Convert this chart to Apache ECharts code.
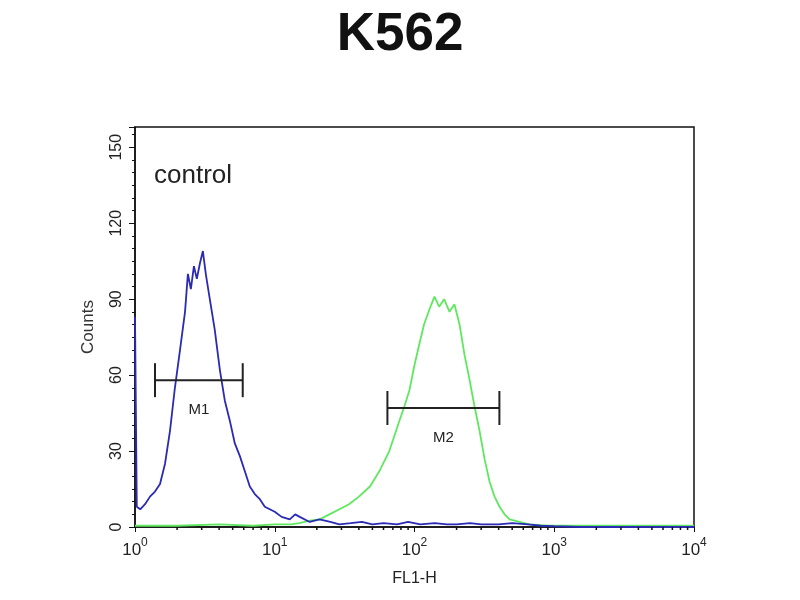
<!DOCTYPE html>
<html>
<head>
<meta charset="utf-8">
<script src="https://cdn.jsdelivr.net/npm/echarts@6/dist/echarts.min.js"></script>
<style>html,body{margin:0;padding:0;background:#fff;}#c{width:800px;height:600px;}</style>
</head>
<body>
<div id="c"></div>
<script>
const titleText = 'K562';
const xAxisName = 'FL1-H';
const yAxisName = 'Counts';
const panelLabel = 'control';

const blueX = [1, 1.03, 1.09, 1.18, 1.28, 1.39, 1.51, 1.64, 1.78, 1.93, 2.10, 2.28, 2.39, 2.51, 2.64, 2.77, 2.91, 3.06, 3.21, 3.43, 3.72, 4.05, 4.39, 4.77, 5.18, 5.63, 6.11, 6.63, 7.20, 7.82, 8.49, 9.22, 10, 11.2, 12.8, 14, 15.1, 17.8, 20.9, 25, 29, 35, 42, 50, 60, 75, 90, 110, 140, 170, 200, 250, 300, 400, 500, 650, 800, 1000, 1500, 3000, 10000];
const blueY = [83, 8, 7, 9, 12, 14, 17, 25, 38, 55, 70, 85, 100, 94, 103, 98, 104, 109, 100, 90, 78, 62, 50, 42, 33, 28, 22, 16, 13, 11, 8, 7, 6, 4, 3, 5, 4, 2, 3, 2, 1, 1.5, 2, 1, 1.5, 1, 2, 1, 1.5, 1, 1, 1.5, 1, 1, 1.5, 1, 0.5, 0.3, 0, 0, 0];

const greenX = [1, 2, 4, 7, 10, 13, 15, 17.8, 21, 24.6, 29, 34, 40, 48, 56, 66, 78, 85, 92, 100, 108, 117, 128, 139, 150, 163, 178, 193, 210, 228, 248, 268, 292, 317, 344, 374, 406, 441, 479, 565, 660, 920, 1500, 3000, 10000];
const greenY = [0.5, 0.5, 1, 0.5, 1, 1, 1.5, 2.5, 3, 5, 7, 9, 12, 16, 22, 30, 42, 48, 54, 64, 72, 80, 86, 91, 87, 90, 85, 88, 80, 68, 58, 48, 38, 27, 18, 12, 8, 5, 3, 2, 1, 0.5, 0.5, 0.5, 0.5];

const gateNames = ['M1', 'M2'];
const gateStart = [1.39, 64];
const gateEnd = [5.9, 405];
const gateLevel = [58, 47];

const yTicks = [0, 30, 60, 90, 120, 150];
const xMinorTicks = [2, 3, 4, 5, 6, 7, 8, 9, 20, 30, 40, 50, 60, 70, 80, 90, 200, 300, 400, 500, 600, 700, 800, 900, 2000, 3000, 4000, 5000, 6000, 7000, 8000, 9000];

const chart = echarts.init(document.getElementById('c'));

const gateData = gateNames.map((n, i) => [gateStart[i], gateEnd[i], gateLevel[i], n]);

chart.setOption({
  animation: false,
  backgroundColor: '#fff',
  title: {
    text: titleText,
    left: 'center',
    top: 4,
    textStyle: { fontFamily: 'Liberation Sans, Arial, sans-serif', fontWeight: 'bold', fontSize: 53, color: '#111' }
  },
  grid: { left: 135, right: 106, top: 127, bottom: 73, show: true, borderColor: '#111', borderWidth: 1.5, backgroundColor: '#fff' },
  xAxis: {
    type: 'log',
    logBase: 10,
    min: 1,
    max: 10000,
    name: xAxisName,
    nameLocation: 'middle',
    nameGap: 44,
    nameTextStyle: { fontFamily: 'Liberation Sans, Arial', fontSize: 16, color: '#222' },
    axisLine: { lineStyle: { color: '#111', width: 1.5 } },
    axisTick: { show: true, length: 5, lineStyle: { color: '#111' } },
    splitLine: { show: false },
    axisLabel: {
      margin: 10,
      formatter: function (v) {
        const e = Math.round(Math.log10(v));
        return '{b|10}{s|' + e + '}';
      },
      rich: {
        b: { fontFamily: 'Liberation Sans, Arial', fontSize: 17, color: '#222', verticalAlign: 'bottom' },
        s: { fontFamily: 'Liberation Sans, Arial', fontSize: 12, color: '#222', verticalAlign: 'top', padding: [0, 0, 10, 0] }
      }
    }
  },
  yAxis: {
    type: 'value',
    min: 0,
    max: 158,
    interval: 30,
    name: yAxisName,
    nameLocation: 'middle',
    nameGap: 38,
    nameRotate: 90,
    nameTextStyle: { fontFamily: 'Liberation Sans, Arial', fontSize: 17, color: '#333' },
    axisLine: { show: true, lineStyle: { color: '#111', width: 1.5 } },
    axisTick: { show: true, length: 6, lineStyle: { color: '#111' } },
    minorTick: { show: true, splitNumber: 6, length: 3, lineStyle: { color: '#111' } },
    splitLine: { show: false },
    axisLabel: {
      rotate: 90,
      margin: 10,
      fontFamily: 'Liberation Sans, Arial',
      fontSize: 16,
      color: '#222',
      formatter: function (v) { return yTicks.indexOf(v) >= 0 ? String(v) : ''; }
    }
  },
  graphic: [{
    type: 'text',
    left: 154,
    top: 163,
    style: { text: panelLabel, fontFamily: 'Liberation Sans, Arial', fontSize: 26, fill: '#222' }
  }],
  series: [
    {
      name: 'green',
      type: 'line',
      showSymbol: false,
      data: greenX.map((x, i) => [x, greenY[i]]),
      lineStyle: { color: '#5fe85f', width: 1.8 },
      z: 2
    },
    {
      name: 'blue',
      type: 'line',
      showSymbol: false,
      data: blueX.map((x, i) => [x, blueY[i]]),
      lineStyle: { color: '#2a2ab4', width: 1.8 },
      z: 3
    },
    {
      name: 'gates',
      type: 'custom',
      z: 4,
      data: gateData,
      renderItem: function (params, api) {
        const p1 = api.coord([api.value(0), api.value(2)]);
        const p2 = api.coord([api.value(1), api.value(2)]);
        const h = 17;
        const ls = { stroke: '#222', lineWidth: 2 };
        return {
          type: 'group',
          children: [
            { type: 'line', shape: { x1: p1[0], y1: p1[1], x2: p2[0], y2: p2[1] }, style: ls },
            { type: 'line', shape: { x1: p1[0], y1: p1[1] - h, x2: p1[0], y2: p1[1] + h }, style: ls },
            { type: 'line', shape: { x1: p2[0], y1: p2[1] - h, x2: p2[0], y2: p2[1] + h }, style: ls },
            { type: 'text', x: (p1[0] + p2[0]) / 2, y: p1[1] + 30,
              style: { text: api.value(3), fontFamily: 'Liberation Sans, Arial', fontSize: 15, fill: '#222', align: 'center', verticalAlign: 'middle' } }
          ]
        };
      }
    },
    {
      name: 'xminor',
      type: 'custom',
      z: 5,
      silent: true,
      clip: false,
      data: xMinorTicks.map(v => [v, 0]),
      renderItem: function (params, api) {
        const p = api.coord([api.value(0), 0]);
        return { type: 'line', shape: { x1: p[0], y1: p[1], x2: p[0], y2: p[1] + 3 }, style: { stroke: '#111', lineWidth: 1.5 } };
      }
    }
  ]
});
</script>
</body>
</html>
